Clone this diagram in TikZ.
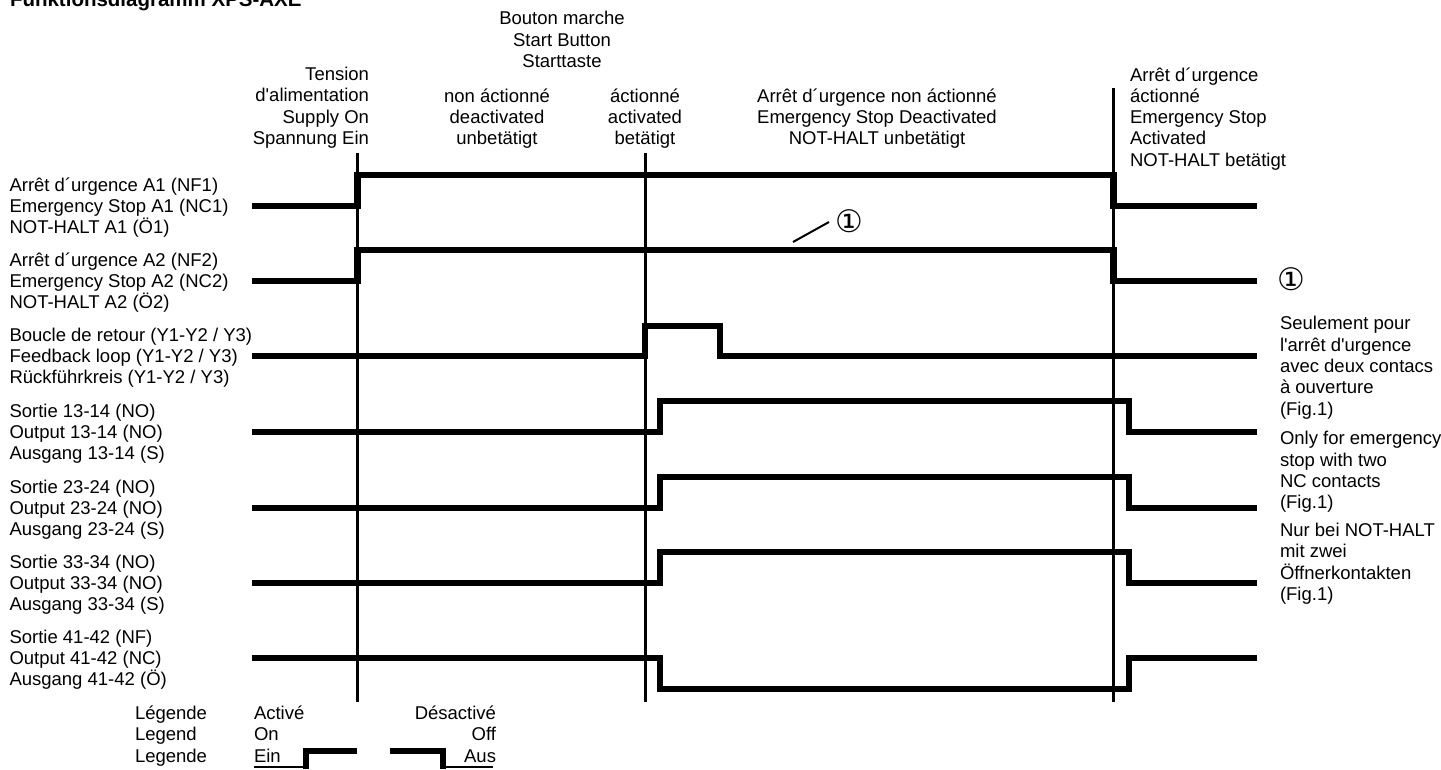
\documentclass[tikz,border=0pt]{standalone}
\usepackage{fontspec}
\setmainfont{Liberation Sans}
\newfontfamily\symfont{DejaVu Sans}
\newcommand\sq{\textquotesingle}
\begin{document}
\begin{tikzpicture}[x=1pt,y=-1pt,
  lbl/.style={inner sep=0pt, outer sep=0pt, font=\fontsize{18.5}{21.3}\selectfont},
  sig/.style={line width=6.5pt, line join=miter, line cap=butt},
  guide/.style={line width=3pt},
  thin/.style={line width=2pt},
  circ/.style={inner sep=0pt, font=\symfont\fontsize{31}{31}\selectfont},
]
\useasboundingbox (0,0) rectangle (1441,769);

% title (cut at the top of the page)
\node[lbl, font=\fontsize{20.5}{24}\selectfont\bfseries, anchor=base west] (title) at (10,6) {Funktionsdiagramm XPS-AXE};

% vertical guide lines
\coordinate (g1t) at (357,153);  \coordinate (g1b) at (357,702);
\coordinate (g2t) at (645,153);  \coordinate (g2b) at (645,702);
\coordinate (g3t) at (1113,88);  \coordinate (g3b) at (1113,702);
\draw[guide] (g1t) -- (g1b);
\draw[guide] (g2t) -- (g2b);
\draw[guide] (g3t) -- (g3b);

% header texts
\node[lbl, align=right, anchor=north east] (hsupply) at (369,{80.5-14.91})
  {\strut Tension\\d\sq alimentation\\Supply On\\Spannung Ein};
\node[lbl, align=center, anchor=north] (hbutton) at (562,{24.8-14.91})
  {\strut Bouton marche\\Start Button\\Starttaste};
\node[lbl, align=center, anchor=north] (hnon) at (497,{102.2-14.91})
  {\strut non áctionné\\deactivated\\unbetätigt};
\node[lbl, align=center, anchor=north] (hact) at (645,{102.2-14.91})
  {\strut áctionné\\activated\\betätigt};
\node[lbl, align=center, anchor=north] (hesd) at (877,{102.2-14.91})
  {\strut Arrêt d´urgence non áctionné\\Emergency Stop Deactivated\\NOT-HALT unbetätigt};
\node[lbl, align=left, anchor=north west] (hesa) at (1130,{81-14.91})
  {\strut Arrêt d´urgence\\áctionné\\Emergency Stop\\Activated\\NOT-HALT betätigt};

% row labels (middle line centred on the left level of each signal)
\node[lbl, align=left, anchor=north west] (l1) at (9.5,{206-29.7})
  {\strut Arrêt d´urgence A1 (NF1)\\Emergency Stop A1 (NC1)\\NOT-HALT A1 (Ö1)};
\node[lbl, align=left, anchor=north west] (l2) at (9.5,{281-29.7})
  {\strut Arrêt d´urgence A2 (NF2)\\Emergency Stop A2 (NC2)\\NOT-HALT A2 (Ö2)};
\node[lbl, align=left, anchor=north west] (l3) at (9.5,{356-29.7})
  {\strut Boucle de retour (Y1-Y2 / Y3)\\Feedback loop (Y1-Y2 / Y3)\\Rückführkreis (Y1-Y2 / Y3)};
\node[lbl, align=left, anchor=north west] (l4) at (9.5,{432-29.7})
  {\strut Sortie 13-14 (NO)\\Output 13-14 (NO)\\Ausgang 13-14 (S)};
\node[lbl, align=left, anchor=north west] (l5) at (9.5,{508-29.7})
  {\strut Sortie 23-24 (NO)\\Output 23-24 (NO)\\Ausgang 23-24 (S)};
\node[lbl, align=left, anchor=north west] (l6) at (9.5,{583-29.7})
  {\strut Sortie 33-34 (NO)\\Output 33-34 (NO)\\Ausgang 33-34 (S)};
\node[lbl, align=left, anchor=north west] (l7) at (9.5,{658-29.7})
  {\strut Sortie 41-42 (NF)\\Output 41-42 (NC)\\Ausgang 41-42 (Ö)};

% signals
\draw[sig] (252,206) -- (357.5,206) -- (357.5,175) -- (1113.5,175) -- (1113.5,206) -- (1257,206);
\draw[sig] (252,281) -- (357.5,281) -- (357.5,250) -- (1113.5,250) -- (1113.5,281) -- (1257,281);
\draw[sig] (252,356) -- (645,356) -- (645,326) -- (720,326) -- (720,356) -- (1257,356);
\draw[sig] (252,432) -- (660,432) -- (660,401) -- (1129,401) -- (1129,432) -- (1257,432);
\draw[sig] (252,508) -- (660,508) -- (660,477) -- (1129,477) -- (1129,508) -- (1257,508);
\draw[sig] (252,583) -- (660,583) -- (660,552) -- (1129,552) -- (1129,583) -- (1257,583);
\draw[sig] (252,658) -- (660,658) -- (660,689) -- (1129,689) -- (1129,658) -- (1257,658);

% note marker on A2 signal
\node[circ] (n1) at (849,221) {①};
\coordinate (n1a) at (793,242);
\draw[thin] (n1a) -- (829,222);

% right notes
\node[circ] (n2) at (1291,279) {①};
\node[lbl, align=left, anchor=north west] (r1) at (1280,{329.8-14.91})
  {\strut Seulement pour\\l\sq arrêt d\sq urgence\\avec deux contacs\\à ouverture\\(Fig.1)};
\node[lbl, align=left, anchor=north west] (r2) at (1280,{444.8-14.91})
  {\strut Only for emergency\\stop with two\\NC contacts\\(Fig.1)};
\node[lbl, align=left, anchor=north west] (r3) at (1280,{536.5-14.91})
  {\strut Nur bei NOT-HALT\\mit zwei\\Öffnerkontakten\\(Fig.1)};

% legend
\node[lbl, align=left, anchor=north west] (leg) at (135,{719.5-14.91})
  {\strut Légende\\Legend\\Legende};
\node[lbl, align=left, anchor=north west] (legon) at (254,{719.5-14.91})
  {\strut Activé\\On\\Ein};
\node[lbl, align=right, anchor=north east] (legoff) at (496,{719.5-14.91})
  {\strut Désactivé\\Off\\Aus};
\draw[line width=1.5pt] (254,767) -- (306,767);
\draw[sig] (306,769) -- (306,751) -- (357,751);
\draw[sig] (390,751) -- (443,751) -- (443,769);
\draw[line width=1.5pt] (443,767) -- (493,767);
\end{tikzpicture}
\end{document}
